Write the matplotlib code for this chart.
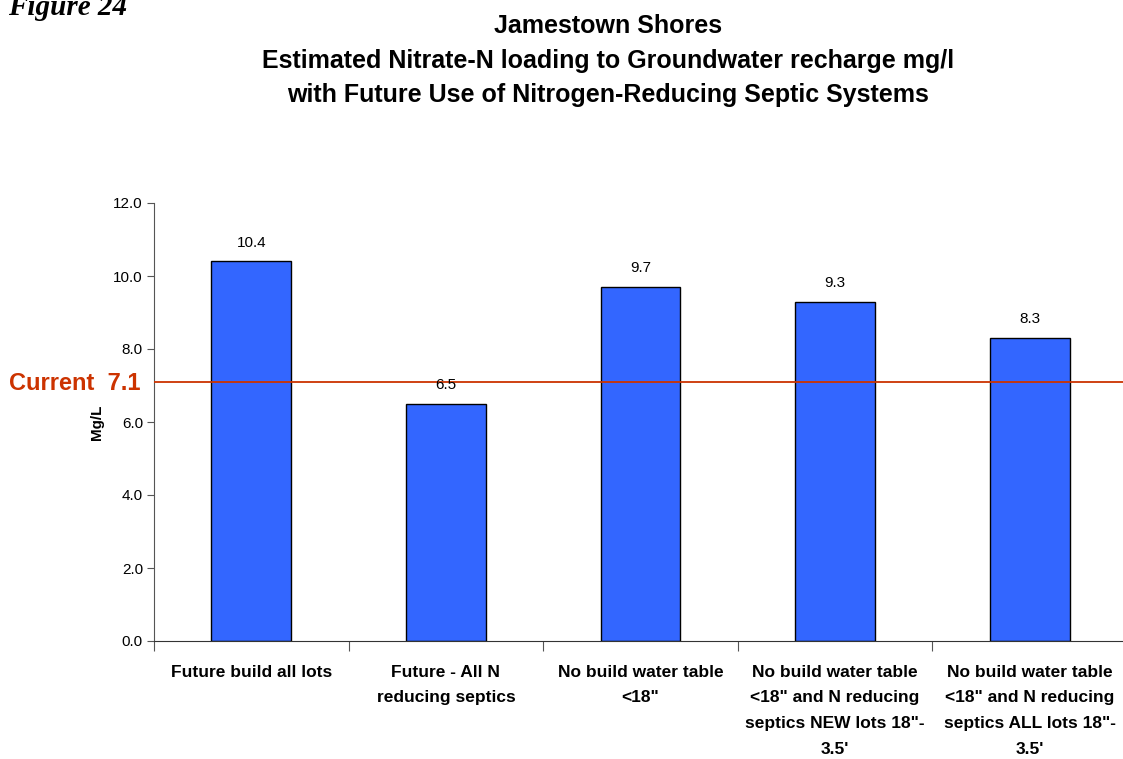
import matplotlib
matplotlib.use("Agg")
import matplotlib.pyplot as plt
import numpy as np

categories = [
    "Future build all lots",
    "Future - All N\nreducing septics",
    "No build water table\n<18\"",
    "No build water table\n<18\" and N reducing\nseptics NEW lots 18\"-\n3.5'",
    "No build water table\n<18\" and N reducing\nseptics ALL lots 18\"-\n3.5'",
]
values = [10.4, 6.5, 9.7, 9.3, 8.3]
current_level = 7.1
yticks = [0.0, 2.0, 4.0, 6.0, 8.0, 10.0, 12.0]
title_lines = [
    "Jamestown Shores",
    "Estimated Nitrate-N loading to Groundwater recharge mg/l",
    "with Future Use of Nitrogen-Reducing Septic Systems",
]

plt.rcParams['font.family'] = ['Liberation Sans', 'DejaVu Sans']

fig = plt.figure(figsize=(11.23, 7.59), dpi=100)
W, H = 1123, 759
ax = fig.add_axes([154 / W, 1 - 641 / H, (1127 - 154) / W, (641 - 203) / H])

x = np.arange(len(categories))
ax.bar(x, values, width=0.41, color='#3366FF', edgecolor='black', linewidth=1.0, zorder=2)
for xi, v in zip(x, values):
    ax.text(xi, v + 0.32, f"{v:.1f}", ha='center', va='bottom', fontsize=11, color='black', zorder=4)

ax.axhline(current_level, color='#CC3300', linewidth=1.3, zorder=3)

ax.set_xlim(-0.5, len(categories) - 0.5)
ax.set_ylim(0, 12)
ax.set_yticks(yticks)
ax.set_yticklabels([f"{t:.1f}" for t in yticks], fontsize=11)
ax.set_xticks(x)
ax.set_xticklabels(categories, fontsize=12.5, fontweight='bold', linespacing=1.9)
ax.set_xticks(np.arange(len(categories) + 1) - 0.5, minor=True)
ax.tick_params(axis='x', which='major', length=0, pad=17)
ax.tick_params(axis='x', which='minor', length=7, width=0.8, color='#555555')
ax.tick_params(axis='y', length=5, width=0.8, color='#555555', pad=3)
for s in ['top', 'right']:
    ax.spines[s].set_visible(False)
ax.spines['left'].set_color('#555555')
ax.spines['bottom'].set_color('#333333')
ax.set_ylabel("Mg/L", fontsize=11, fontweight='bold', labelpad=7)

for yb, line in zip([33, 68, 102], title_lines):
    fig.text(608 / W, 1 - yb / H, line, ha='center', va='baseline', fontsize=18, fontweight='bold')
fig.text(75 / W, 1 - 383 / H, "Current  7.1", ha='center', va='center', fontsize=17,
         fontweight='bold', color='#CC3300')
fig.text(8 / W, 1 - 15 / H, "Figure 24", ha='left', va='baseline', fontsize=21,
         fontweight='bold', fontstyle='italic', family=['Liberation Serif', 'DejaVu Serif'])

fig.savefig("out.png", dpi=100)
